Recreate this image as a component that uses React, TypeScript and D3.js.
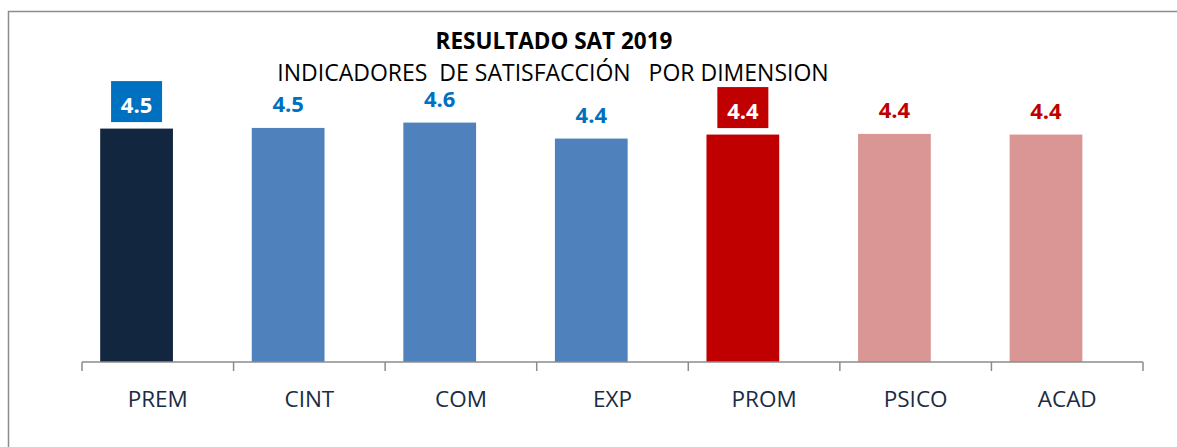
import * as d3 from 'd3'

const W = 1177
const H = 447
const M = { top: 96, bottom: 85, left: 82, right: 34 }

const categories = ['PREM', 'CINT', 'COM', 'EXP', 'PROM', 'PSICO', 'ACAD']
const values = [4.51, 4.52, 4.6, 4.36, 4.42, 4.43, 4.42]
const barColors = ['#12263F', '#4F81BD', '#4F81BD', '#4F81BD', '#C00000', '#D99694', '#D99694']
const labelColors = ['#0070C0', '#0070C0', '#0070C0', '#0070C0', '#C00000', '#C00000', '#C00000']
const boxed = [true, false, false, false, true, false, false]
const yDomain = [1, 5]

const FONT = "'Open Sans', 'DejaVu Sans', sans-serif"

export default function App() {
  const x = d3.scaleBand<string>().domain(categories).range([M.left, W - M.right]).padding(0)
  const y = d3.scaleLinear().domain(yDomain).range([H - M.bottom, M.top])
  const base = y(yDomain[0])
  const bw = x.bandwidth() * 0.48
  // bars sit left of the band centre (as in the original, which had an empty second series)
  const shift = -x.bandwidth() * 0.14
  const edges = categories.map((c) => x(c)!).concat([W - M.right])

  return (
    <svg
      width={W}
      height={H}
      style={{ position: 'absolute', left: 0, top: 0, background: '#fff' }}
      fontFamily={FONT}
    >
      {/* chart frame, runs off the right and bottom */}
      <rect x={8.5} y={11.5} width={1300} height={600} fill="none" stroke="#8c8c8c" strokeWidth={1.5} />

      <text x={554} y={49} textAnchor="middle" fontWeight="bold" fontSize={22.5} fill="#000">
        RESULTADO SAT 2019
      </text>
      <text x={553} y={81} textAnchor="middle" fontSize={23} fill="#000" style={{ whiteSpace: 'pre' }}>
        {'INDICADORES  DE SATISFACCIÓN   POR DIMENSION'}
      </text>

      {categories.map((c, i) => {
        const cx = x(c)! + x.bandwidth() / 2
        const bx = cx + shift
        const top = y(values[i])
        const ly = top - 26
        return (
          <g key={c}>
            <rect x={bx - bw / 2} y={top} width={bw} height={base - top} fill={barColors[i]} />
            {boxed[i] && (
              <rect x={bx - 25.5} y={ly - 21.5} width={51} height={41} fill={labelColors[i]} />
            )}
            <text
              x={bx}
              y={ly + 1}
              textAnchor="middle"
              dominantBaseline="central"
              fontWeight="bold"
              fontSize={22}
              fill={boxed[i] ? '#fff' : labelColors[i]}
            >
              {values[i].toFixed(1)}
            </text>
            <text x={cx} y={407} textAnchor="middle" fontSize={22.5} fill="#1A2B44">
              {c}
            </text>
          </g>
        )
      })}

      <line x1={M.left} x2={W - M.right} y1={base} y2={base} stroke="#8c8c8c" strokeWidth={1.5} />
      {edges.map((e, i) => (
        <line key={i} x1={e} x2={e} y1={base} y2={base + 9} stroke="#8c8c8c" strokeWidth={1.5} />
      ))}
    </svg>
  )
}
